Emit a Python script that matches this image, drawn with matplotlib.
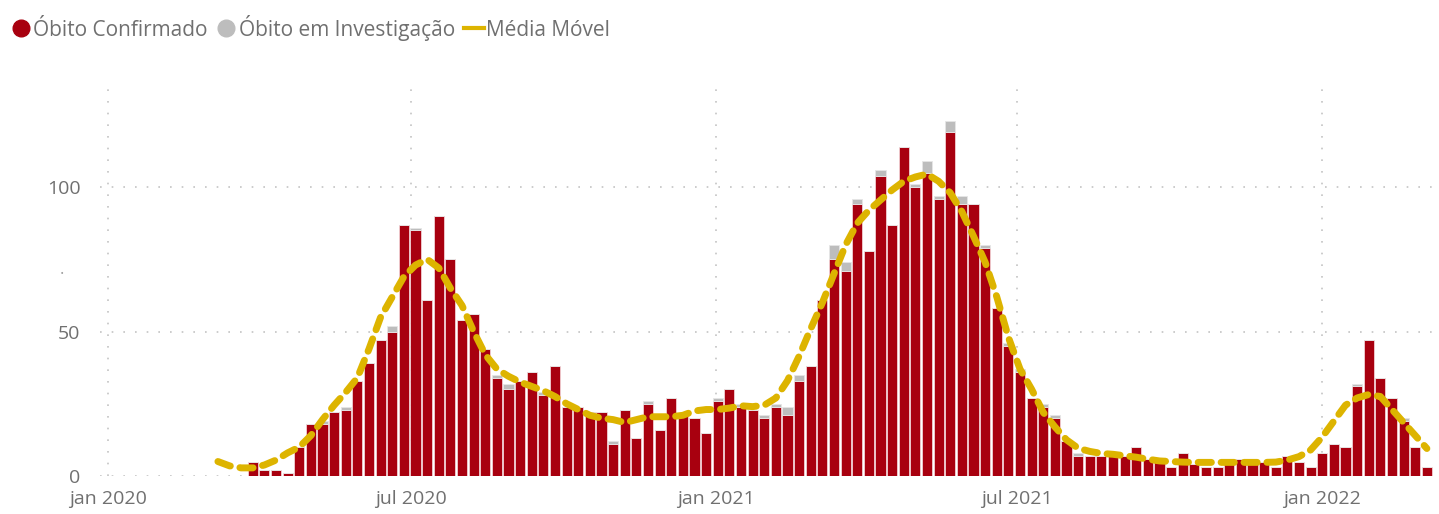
import matplotlib.pyplot as plt
from matplotlib.lines import Line2D
import pandas as pd

plt.rcParams['font.family'] = ['Open Sans', 'DejaVu Sans']

# weekly series (week-ending dates)
semanas = pd.date_range('2020-03-28', periods=102, freq='7D')

obito_confirmado = [
    5, 2, 2, 1, 10, 18, 18, 22, 23, 33,
    39, 47, 50, 87, 85, 61, 90, 75, 54, 56,
    44, 34, 30, 33, 36, 28, 38, 24, 24, 22,
    22, 11, 23, 13, 25, 16, 27, 21, 20, 15,
    26, 30, 24, 23, 20, 24, 21, 33, 38, 61,
    75, 71, 94, 78, 104, 87, 114, 100, 105, 96,
    119, 94, 94, 79, 58, 45, 36, 27, 24, 20,
    12, 7, 7, 7, 8, 7, 10, 6, 5, 3,
    8, 4, 3, 3, 4, 6, 5, 5, 3, 7,
    5, 3, 8, 11, 10, 31, 47, 34, 27, 19,
    10, 3,
]
obito_investigacao = [
    0, 0, 0, 0, 0, 0, 1, 0, 1, 0,
    0, 0, 2, 0, 1, 0, 0, 0, 0, 0,
    0, 1, 2, 0, 0, 1, 0, 0, 0, 0,
    0, 1, 0, 0, 1, 0, 0, 0, 0, 0,
    1, 0, 1, 0, 1, 1, 3, 2, 0, 0,
    5, 3, 2, 0, 2, 0, 0, 1, 4, 1,
    4, 3, 0, 1, 0, 1, 1, 0, 1, 1,
    0, 1, 0, 0, 0, 0, 0, 0, 0, 0,
    0, 0, 0, 0, 0, 0, 0, 0, 0, 0,
    0, 0, 0, 0, 0, 1, 0, 0, 0, 1,
    0, 0,
]

# moving average starts three weeks before the first bar
semanas_media = pd.date_range('2020-03-07', periods=105, freq='7D')
media_movel = [
    5, 3.5, 2.8,
    2.8, 3.8, 5.5, 8, 10, 14, 19.5, 24.5, 29, 34,
    44, 55, 62, 69, 73, 75, 72, 65, 59, 50,
    42, 37, 34.5, 32.5, 31, 29.5, 27.5, 25, 23, 21,
    20, 19.5, 18.5, 19.5, 20.5, 20.5, 20.5, 21, 22.5, 23,
    23, 23.5, 24.3, 24, 24.5, 27, 33, 41.5, 51, 60,
    70, 80, 87.5, 92, 95.5, 99, 102, 103.5, 104.5, 102,
    98, 91.5, 83, 74, 62, 48, 37, 30, 22, 17,
    12.5, 9.6, 8.5, 7.8, 7.5, 7, 6.5, 5.8, 5.2, 5,
    4.8, 4.7, 4.7, 4.7, 4.7, 4.7, 4.7, 4.7, 4.8, 5.5,
    6.7, 9, 13.5, 19, 24.5, 27, 28.2, 27.5, 23, 18.5,
    14, 9.5,
]

tick_datas = pd.to_datetime(['2020-01-01', '2020-07-01', '2021-01-01', '2021-07-01', '2022-01-01'])
tick_rotulos = ['jan 2020', 'jul 2020', 'jan 2021', 'jul 2021', 'jan 2022']

cor_conf = '#A8000F'
cor_inv = '#BDBDBD'
cor_media = '#DDB400'
cor_texto = '#707070'

fig = plt.figure(figsize=(14.39, 5.14), dpi=100)
ax = fig.add_axes([0.0695, 0.074, 0.929, 0.77])

ax.bar(semanas, obito_confirmado, width=6.1, color=cor_conf, edgecolor='#F2D0D3', linewidth=0.6, zorder=2)
ax.bar(semanas, obito_investigacao, bottom=obito_confirmado, width=6.1, color=cor_inv,
       edgecolor='#E6E6E6', linewidth=0.6, zorder=2)
ax.plot(semanas_media, media_movel, color=cor_media, lw=5, dashes=(1.9, 1.4),
        dash_capstyle='round', zorder=3)

ax.set_xlim(pd.Timestamp('2019-12-27'), pd.Timestamp('2022-03-11'))
ax.set_ylim(0, 137)
ax.set_yticks([0, 50, 100])
ax.set_xticks(tick_datas)
ax.set_xticklabels(tick_rotulos)
ax.tick_params(length=0, labelsize=14, colors=cor_texto)
ax.tick_params(axis='x', pad=10)
ax.tick_params(axis='y', pad=14)
for s in ax.spines.values():
    s.set_visible(False)
ax.grid(True, color='#C4C4C4', linestyle=(0, (1, 6)), linewidth=1.2, zorder=0)
ax.set_axisbelow(True)

# small placeholder dot left of the y axis
fig.text(0.043, 0.465, '·', color='#A0A0A0', fontsize=12, ha='center', va='center')

handles = [
    Line2D([], [], marker='o', color='none', markerfacecolor=cor_conf, markeredgecolor=cor_conf, markersize=12),
    Line2D([], [], marker='o', color='none', markerfacecolor=cor_inv, markeredgecolor=cor_inv, markersize=12),
    Line2D([], [], color=cor_media, lw=3),
]
fig.legend(handles, ['Óbito Confirmado', 'Óbito em Investigação', 'Média Móvel'],
           loc='upper left', bbox_to_anchor=(-0.003, 1.0), ncol=3, frameon=False,
           fontsize=15, labelcolor=cor_texto, handlelength=1.0, handletextpad=0.1,
           columnspacing=0.4, borderaxespad=0.3)

fig.savefig('out.png', dpi=100)
